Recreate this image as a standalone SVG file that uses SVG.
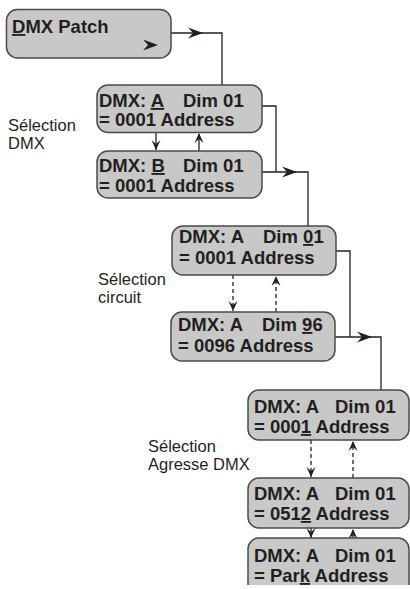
<svg xmlns="http://www.w3.org/2000/svg" width="410" height="589" viewBox="0 0 410 589">
<style>
.box{fill:#c8c8c8;stroke:#4a4a4a;stroke-width:1.5}
.t{font-family:"Liberation Sans",Arial,sans-serif;font-weight:bold;font-size:18.5px;fill:#231f20}
.lab{font-family:"Liberation Sans",Arial,sans-serif;font-size:16.5px;fill:#231f20}
.u{text-decoration:underline}
.c{fill:none;stroke:#231f20;stroke-width:1.3}
.d{fill:none;stroke:#231f20;stroke-width:1.3;stroke-dasharray:4 3}
.ah{fill:#231f20}
</style>
<defs>
<path id="ah" d="M0,0 L-15,-5.5 L-10,0 L-15,5.5 Z"/>
<path id="av" d="M0,0 L-4.5,-10 L0,-6 L4.5,-10 Z"/>
<clipPath id="clip"><rect x="0" y="0" width="410" height="585"/></clipPath>
</defs>

<g id="connectors">
<path class="c" d="M171,33 H222 V85"/>
<use href="#ah" class="ah" x="203" y="33"/>
<path class="c" d="M262,106 H276 V172"/>
<path class="c" d="M262,172 H308 V226"/>
<use href="#ah" class="ah" x="297" y="172"/>
<path class="c" d="M336,251 H350 V337"/>
<path class="c" d="M335,337 H381 V390"/>
<use href="#ah" class="ah" x="372" y="337"/>

<path class="c" d="M156,132 V150"/>
<use href="#av" class="ah" transform="translate(156,150)"/>
<path class="c" d="M199,151 V134"/>
<use href="#av" class="ah" transform="translate(199,133) rotate(180)"/>

<path class="d" d="M233,275 V311"/>
<use href="#av" class="ah" transform="translate(233,311)"/>
<path class="d" d="M276,312 V277"/>
<use href="#av" class="ah" transform="translate(276,276) rotate(180)"/>

<path class="d" d="M311,440 V477"/>
<use href="#av" class="ah" transform="translate(311,477)"/>
<path class="d" d="M353,478 V442"/>
<use href="#av" class="ah" transform="translate(353,441) rotate(180)"/>

<path class="c" d="M311,528 V538"/>
<use href="#av" class="ah" transform="translate(311,538)"/>
<path class="c" d="M353,538 V530"/>
<use href="#av" class="ah" transform="translate(353,529) rotate(180)"/>
</g>

<g id="patch">
<rect class="box" x="6.5" y="9.5" width="164.5" height="48.5" rx="11"/>
<text class="t" x="12" y="33"><tspan class="u">D</tspan>MX Patch</text>
<use href="#ah" class="ah" x="158" y="45"/>
</g>

<g id="dmxA">
<rect class="box" x="97" y="85" width="165" height="47.5" rx="11"/>
<text class="t" x="99" y="107">DMX: <tspan class="u">A</tspan></text>
<text class="t" x="183" y="107">Dim 01</text>
<text class="t" x="99" y="126">= 0001 Address</text>
</g>

<g id="dmxB">
<rect class="box" x="97" y="151" width="165" height="47" rx="11"/>
<text class="t" x="99" y="172">DMX: <tspan class="u">B</tspan></text>
<text class="t" x="183" y="172">Dim 01</text>
<text class="t" x="99" y="192">= 0001 Address</text>
</g>

<g id="dim01">
<rect class="box" x="172" y="226" width="164" height="49" rx="11"/>
<text class="t" x="179" y="243">DMX: A</text>
<text class="t" x="263" y="243">Dim <tspan class="u">0</tspan>1</text>
<text class="t" x="179" y="264">= 0001 Address</text>
</g>

<g id="dim96">
<rect class="box" x="171" y="312" width="164" height="49" rx="11"/>
<text class="t" x="178" y="331">DMX: A</text>
<text class="t" x="262" y="331">Dim <tspan class="u">9</tspan>6</text>
<text class="t" x="178" y="352">= 0096 Address</text>
</g>

<g id="addr0001">
<rect class="box" x="248" y="390" width="161" height="50" rx="11"/>
<text class="t" x="254" y="413">DMX: A</text>
<text class="t" x="335" y="413">Dim 01</text>
<text class="t" x="254" y="433">= 000<tspan class="u">1</tspan> Address</text>
</g>

<g id="addr0512">
<rect class="box" x="248" y="478" width="161" height="50" rx="11"/>
<text class="t" x="254" y="500">DMX: A</text>
<text class="t" x="335" y="500">Dim 01</text>
<text class="t" x="254" y="520">= 051<tspan class="u">2</tspan> Address</text>
</g>

<g id="park" clip-path="url(#clip)">
<rect class="box" x="248" y="538" width="161" height="60" rx="11"/>
<text class="t" x="254" y="562">DMX: A</text>
<text class="t" x="335" y="562">Dim 01</text>
<text class="t" x="254" y="582">= Par<tspan class="u">k</tspan> Address</text>
</g>

<g id="labels">
<text class="lab" x="8" y="131">Sélection</text>
<text class="lab" x="8" y="149">DMX</text>
<text class="lab" x="98" y="285">Sélection</text>
<text class="lab" x="98" y="303">circuit</text>
<text class="lab" x="148" y="452">Sélection</text>
<text class="lab" x="148" y="470">Agresse DMX</text>
</g>
</svg>
